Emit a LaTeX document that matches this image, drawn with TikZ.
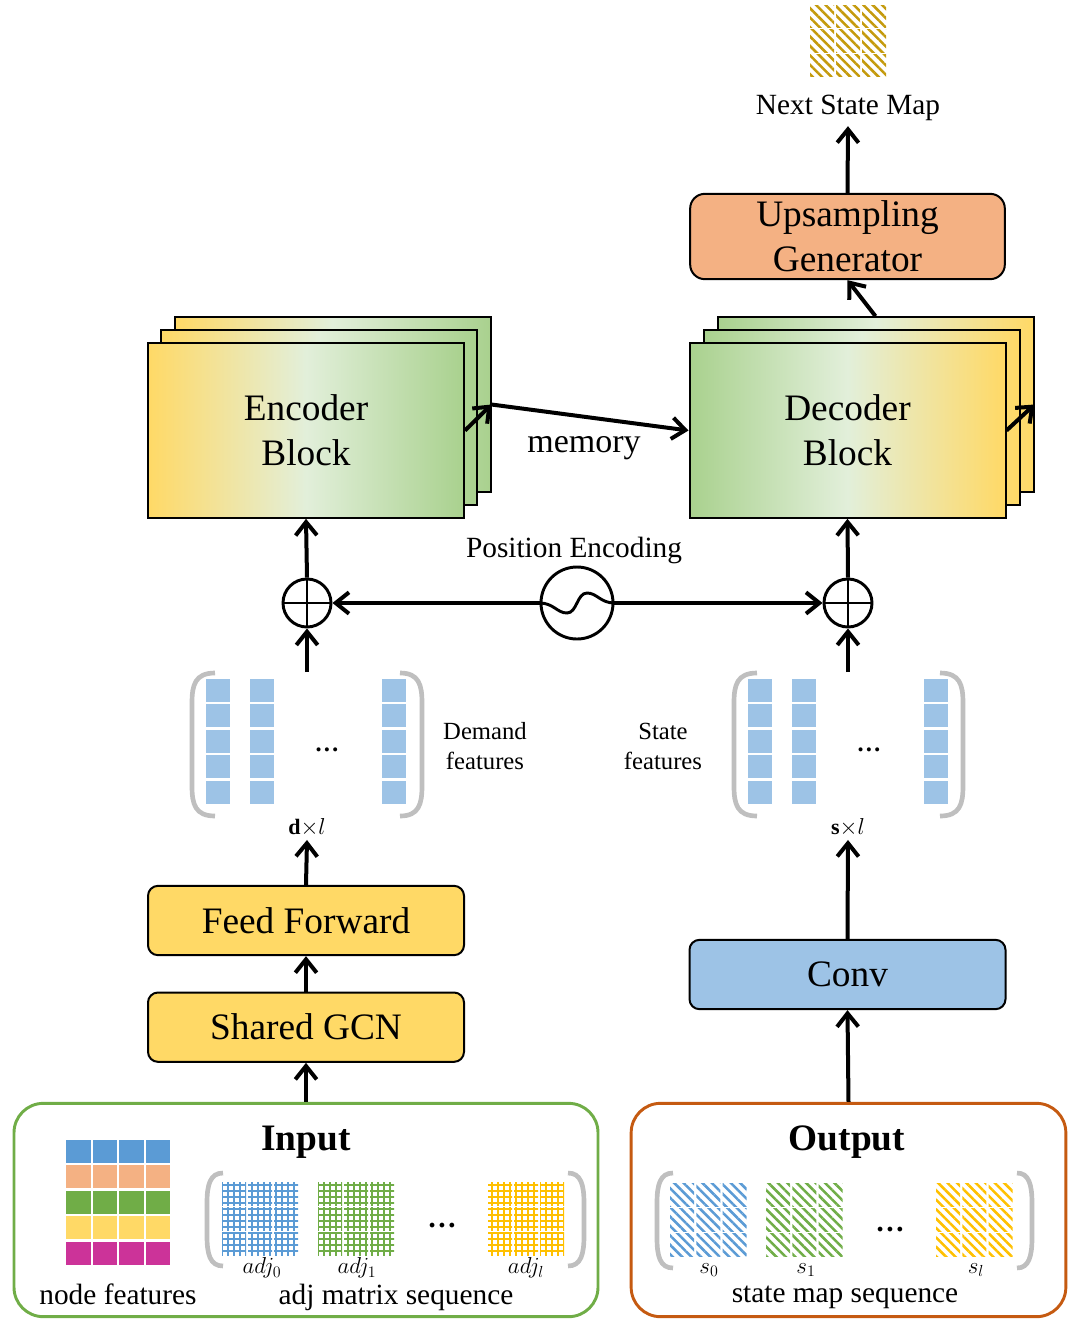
\documentclass[tikz,border=0pt]{standalone}
\usepackage{fontspec}
\setmainfont{Liberation Serif}
\usepackage{amsmath}
\usetikzlibrary{positioning, arrows.meta, patterns.meta}

\definecolor{gyellow}{HTML}{FFD966}
\definecolor{gpale}{HTML}{E2EFDA}
\definecolor{ggreen}{HTML}{A9D18E}
\definecolor{upcol}{HTML}{F4B183}
\definecolor{convcol}{HTML}{9DC3E6}
\definecolor{nfblue}{HTML}{5B9BD5}
\definecolor{nforange}{HTML}{F4B183}
\definecolor{nfgreen}{HTML}{70AD47}
\definecolor{nfyellow}{HTML}{FFD966}
\definecolor{nfpink}{HTML}{CC3399}
\definecolor{adjgold}{HTML}{FFC000}
\definecolor{mapgold}{HTML}{C49A0C}
\definecolor{brkgray}{HTML}{BFBFBF}
\definecolor{inframe}{HTML}{70AD47}
\definecolor{outframe}{HTML}{C55A11}

\begin{document}
\begin{tikzpicture}[x=0.75pt, y=-0.75pt, node distance=80pt,
  every node/.style={align=center, inner sep=0pt},
  arr/.style={line width=3pt, -{Straight Barb[length=10pt, width=16pt]}},
  blk/.style={draw, line width=1.5pt, minimum width=237pt, minimum height=131pt},
  encshade/.style={left color=gyellow, right color=ggreen, middle color=gpale},
  decshade/.style={left color=ggreen, right color=gyellow, middle color=gpale},
  box/.style={draw, line width=1.5pt, rounded corners=7.5pt, minimum width=237pt, minimum height=52pt},
  plus/.style={circle, draw, line width=2.2pt, minimum size=36pt},
  frame/.style={draw, line width=2.2pt, rounded corners=22pt, minimum height=160pt},
  brk/.style={brkgray, line width=3.5pt}]

\def\bigfont{\fontsize{28}{34}\selectfont}
\def\memfont{\fontsize{25.5}{30}\selectfont}
\def\midfont{\fontsize{22}{26}\selectfont}
\def\smallfont{\fontsize{18.5}{22.5}\selectfont}
\def\tinyfont{\fontsize{16.5}{19}\selectfont}

\def\leftbrk#1#2#3#4{\draw[brk] (#2,#3) .. controls (#1+3,#3) and (#1,#3+12) .. (#1,#3+30) -- (#1,#4-30) .. controls (#1,#4-12) and (#1+3,#4) .. (#2,#4);}
\def\rightbrk#1#2#3#4{\draw[brk] (#2,#3) .. controls (#1-3,#3) and (#1,#3+12) .. (#1,#3+30) -- (#1,#4-30) .. controls (#1,#4-12) and (#1-3,#4) .. (#2,#4);}

\useasboundingbox (0,0) rectangle (1068,1329);

  % Frames
  \node (input) [frame, draw=inframe, minimum width=438pt] at (306,1210) {};
  \node (output) [frame, draw=outframe, minimum width=326pt] at (848.5,1210) {};
  \node (intitle) [font=\bigfont\bfseries] at (306,1142) {Input};
  \node (outtitle) [font=\bigfont\bfseries] at (847,1142) {Output};

  % node features
  \foreach \col [count=\r from 0] in {nfblue,nforange,nfgreen,nfyellow,nfpink}
    \foreach \c in {0,...,3}
      \fill[\col] (66+26.5*\c, 1140+25.4*\r) rectangle ++(24.5,23);
  \node (nflab) [font=\midfont] at (118,1294) {node features};

  % adj matrix sequence
  \leftbrk{207}{223}{1173}{1266}
  \rightbrk{584}{568}{1173}{1266}
  \foreach \gx/\gc in {222/nfblue, 318/nfgreen, 488/adjgold}
    \foreach \c in {0,1,2}
      \foreach \r in {0,1,2}
        \fill[pattern={Hatch[distance=4.5pt, line width=1.4pt]}, pattern color=\gc] (\gx+26*\c, 1182+25*\r) rectangle ++(24,23);
  \node (adjdots) [font=\midfont\bfseries] at (442,1226) {…};
  \node (adj0) [font=\tinyfont] at (262,1268) {$adj_0$};
  \node (adj1) [font=\tinyfont] at (357,1268) {$adj_1$};
  \node (adjl) [font=\tinyfont] at (526,1268) {$adj_l$};
  \node (amlab) [font=\midfont] at (396,1297) {adj matrix sequence};

  % state map sequence
  \leftbrk{657}{673}{1173}{1268}
  \rightbrk{1032}{1017}{1173}{1268}
  \foreach \gx/\gc in {670/nfblue, 766/nfgreen, 936/adjgold}
    \foreach \c in {0,1,2}
      \foreach \r in {0,1,2}
        \fill[pattern={Lines[angle=-45, distance=5pt, line width=1.9pt]}, pattern color=\gc] (\gx+26.3*\c, 1183+25*\r) rectangle ++(24,23);
  \node (smdots) [font=\midfont\bfseries] at (890,1230) {…};
  \node (s0) [font=\tinyfont] at (709,1270) {$s_0$};
  \node (s1) [font=\tinyfont] at (806,1270) {$s_1$};
  \node (sl) [font=\tinyfont] at (976,1270) {$s_l$};
  \node (smlab) [font=\midfont] at (845,1297) {state map sequence};

  % Boxes
  \node (ff) [box, fill=gyellow, font=\bigfont] at (306,920.5) {Feed Forward};
  \node (gcn) [box, fill=gyellow, font=\bigfont, below of=ff] {Shared GCN};
  \node (conv) [box, fill=convcol, font=\bigfont] at (847.5,974.5) {Conv};

  % Feature matrices
  \leftbrk{192}{215}{673}{816}
  \rightbrk{422}{400}{673}{816}
  \leftbrk{734}{757}{673}{816}
  \rightbrk{963}{940}{673}{816}
  \foreach \cx in {206,250,382,748,792,924}
    \foreach \r in {0,...,4}
      \fill[convcol] (\cx, 679+25.4*\r) rectangle ++(24,23);
  \node (ddots) [font=\smallfont\bfseries] at (327,750) {…};
  \node (sdots) [font=\smallfont\bfseries] at (869,750) {…};
  \node (dflab) [font=\smallfont] at (485,746) {Demand\\features};
  \node (sflab) [font=\smallfont] at (663,746) {State\\features};
  \node (dl) [font=\tinyfont, outer sep=3pt] at (307,827) {$\mathbf{d}{\times}l$};
  \node (sxl) [font=\tinyfont, outer sep=3pt] at (848,827) {$\mathbf{s}{\times}l$};
  \coordinate (dtop) at (307,672);
  \coordinate (stop) at (848,672);

  % Position encoding
  \node (plusL) [plus] at (307,603) {};
  \node (plusR) [plus] at (848,603) {};
  \node (pe) [circle, draw, line width=2.2pt, minimum size=54pt] at (577,603) {};
  \node (pelab) [font=\midfont] at (574,550) {Position Encoding};
  \draw[line width=1.5pt] (plusL.north) -- (plusL.south) (plusL.west) -- (plusL.east);
  \draw[line width=1.5pt] (plusR.north) -- (plusR.south) (plusR.west) -- (plusR.east);
  \draw[line width=2.2pt] (pe.west) .. controls +(14,0) and +(-10,0) .. ([shift={(-10,10)}]pe.center)
    .. controls +(10,0) and +(-10,0) .. ([shift={(10,-10)}]pe.center)
    .. controls +(10,0) and +(-14,0) .. (pe.east);

  % Encoder and decoder stacks
  \node (encB) [blk, encshade] at (332.5,404.5) {};
  \node (encM) [blk, encshade] at (319,417.5) {};
  \node (encF) [blk, encshade, font=\bigfont] at (306,430.5) {Encoder\\Block};
  \node (decB) [blk, decshade] at (875.5,404.5) {};
  \node (decM) [blk, decshade] at (861.5,417.5) {};
  \node (decF) [blk, decshade, font=\bigfont] at (847.5,430.5) {Decoder\\Block};
  \node (memlab) [font=\memfont] at (584,448) {memory};

  \node (up) [box, fill=upcol, rounded corners=11pt, minimum width=236pt, minimum height=64pt, font=\bigfont] at (847.5,236.5) {Upsampling\\Generator};

  % Next state map
  \foreach \c in {0,1,2}
    \foreach \r in {0,1,2}
      \fill[pattern={Lines[angle=-45, distance=5pt, line width=1.9pt]}, pattern color=mapgold] (810+26*\c, 5+24.5*\r) rectangle ++(24,22.5);
  \node (nextlab) [font=\midfont, outer sep=4pt] at (848,108) {Next State Map};

  % Arrows
  \draw[arr] (input.north) -- (gcn.south);
  \draw[arr] (gcn.north) -- (ff.south);
  \draw[arr] (ff.north) -- (dl.south);
  \draw[arr] (output.north) -- (conv.south);
  \draw[arr] (conv.north) -- (sxl.south);
  \draw[arr] (dtop) -- (plusL.south);
  \draw[arr] (stop) -- (plusR.south);
  \draw[arr] (pe.west) -- (plusL.east);
  \draw[arr] (pe.east) -- (plusR.west);
  \draw[arr] (plusL.north) -- (encF.south);
  \draw[arr] (plusR.north) -- (decF.south);
  \draw[arr] (encF.east) -- (encB.east);
  \draw[arr] (encB.east) -- (decF.west);
  \draw[arr] (decF.east) -- (decB.east);
  \draw[arr] (decB.north) -- (up.south);
  \draw[arr] (up.north) -- (nextlab.south);

\end{tikzpicture}
\end{document}
